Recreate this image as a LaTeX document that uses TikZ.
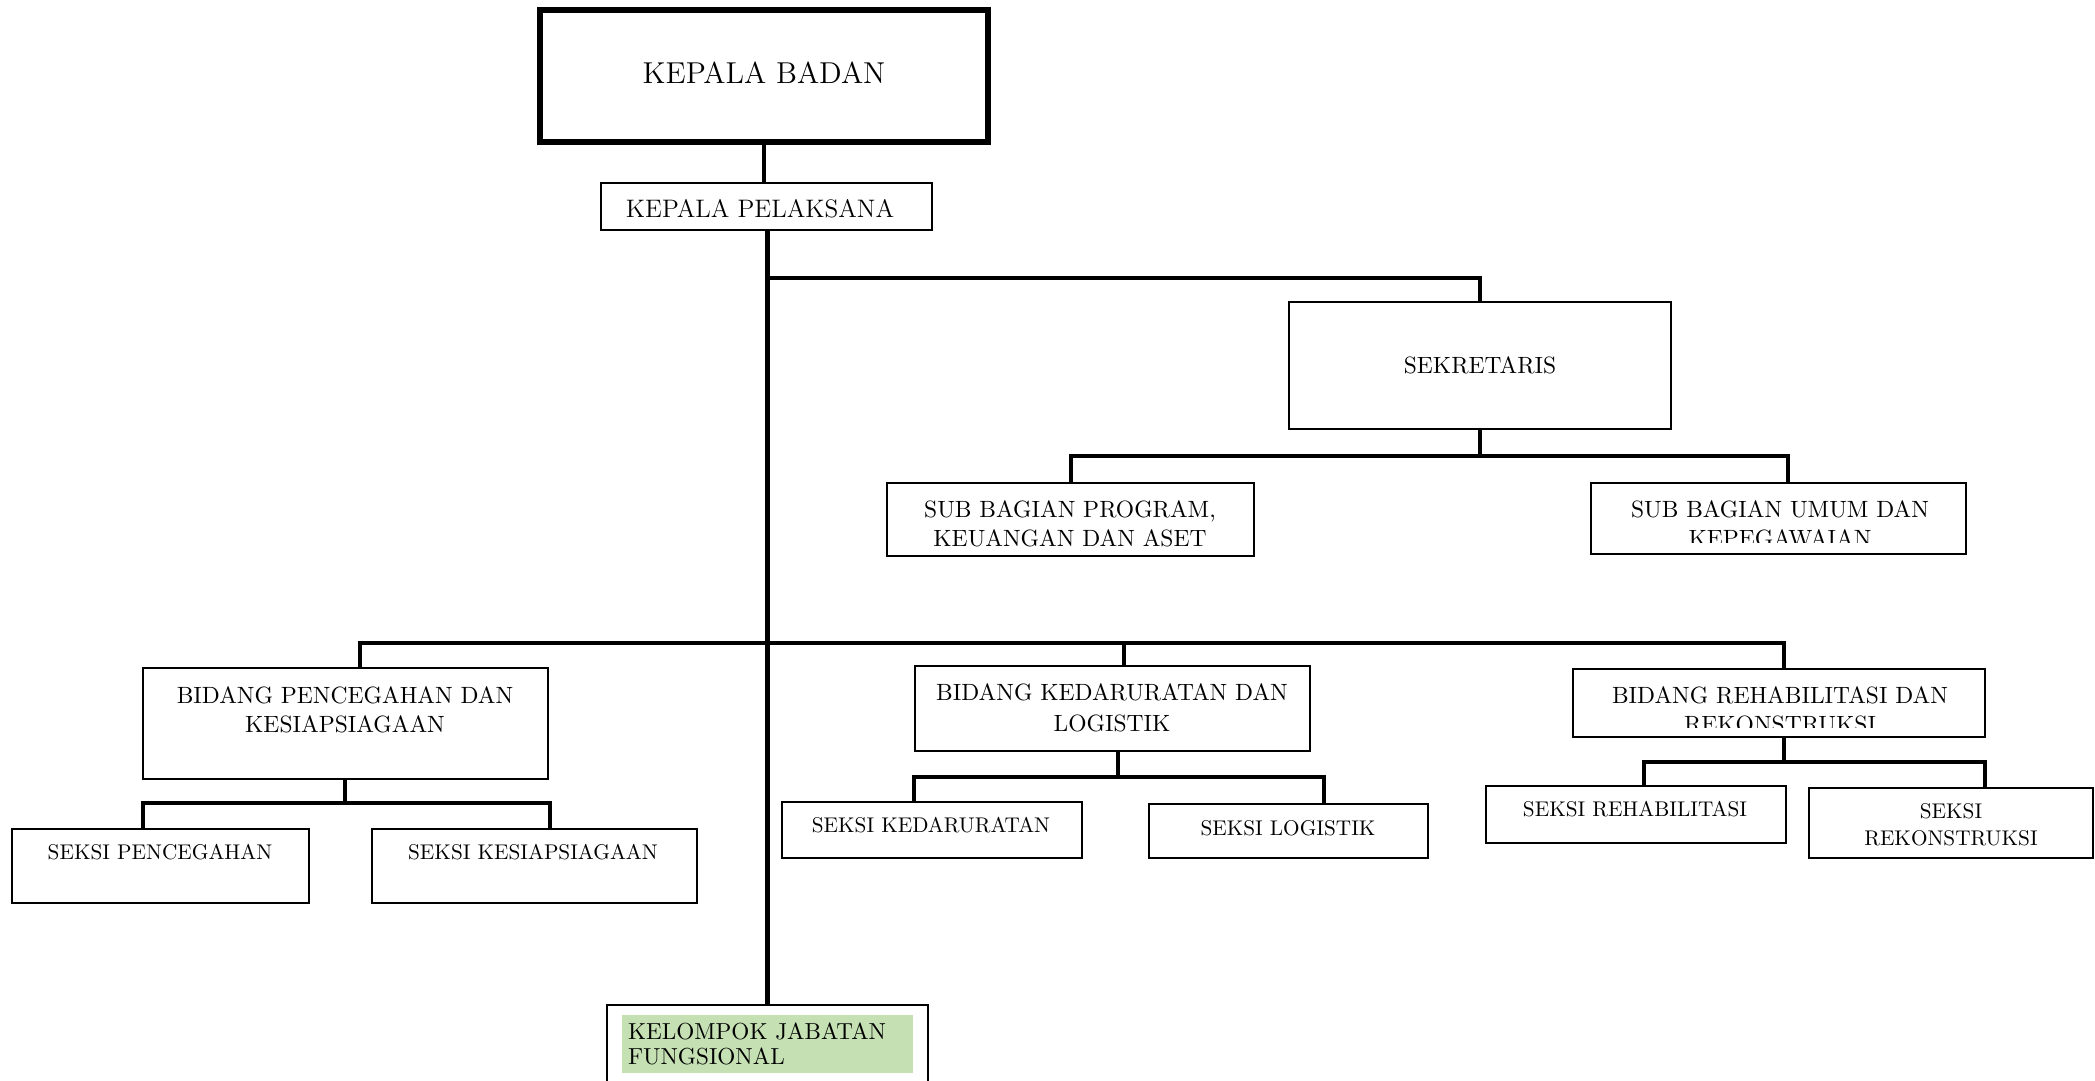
\documentclass[tikz,border=0pt]{standalone}
\definecolor{kjgreen}{HTML}{C5E0B3}
\tikzset{
  box/.style={draw, line width=1.04pt, inner sep=0pt},
  conn/.style={line width=2.08pt},
  lbl/.style={inner sep=0pt, align=center, font=\fontsize{10.72}{13.2}\selectfont},
  slbl/.style={inner sep=0pt, align=center, font=\fontsize{9.68}{12.3}\selectfont},
}
\newcommand\orgbox[6][]{\node[box,#1,minimum width={(#4-#2)*0.016cm},minimum height={(#5-#3)*0.016cm}] (#6) at ({(#2+#4)/2},{(#3+#5)/2}) {};}
\begin{document}
\begin{tikzpicture}[x=0.016cm,y=-0.016cm]
\clip (0,0) rectangle (2095,1081);
\fill[white] (0,0) rectangle (2095,1081);
% boxes
\orgbox[line width=2.72pt]{540}{10}{988}{142}{KB}
\orgbox{601}{183}{932}{230}{KP}
\orgbox{1289}{302}{1671}{429}{SEK}
\orgbox{887}{483}{1254}{556}{SBP}
\orgbox{1591}{483}{1966}{554}{SBU}
\orgbox{143}{668}{548}{779}{BP}
\orgbox{915}{666}{1310}{751}{BK}
\orgbox{1573}{669}{1985}{737}{BR}
\orgbox{12}{829}{309}{903}{SP}
\orgbox{372}{829}{697}{903}{SKS}
\orgbox{782}{802}{1082}{858}{SKD}
\orgbox{1149}{804}{1428}{858}{SL}
\orgbox{1486}{786}{1786}{843}{SR}
\orgbox{1809}{788}{2093}{858}{SRK}
\orgbox{607}{1005}{928}{1130}{KJ}
% texts
\node[inner sep=0pt, font=\fontsize{13.76}{16}\selectfont] (KBt) at (764,73) {KEPALA BADAN};
\node[inner sep=0pt, font=\fontsize{11.52}{14}\selectfont] (KPt) at (760,209) {KEPALA PELAKSANA};
\node[lbl] (SEKt) at (1480,365) {SEKRETARIS};
\node[lbl] (SBPt) at (1070,523.5) {SUB BAGIAN PROGRAM,\\KEUANGAN DAN ASET};
\begin{scope}
  \clip (1591,483) rectangle (1966,543);
  \node[lbl] (SBUt) at (1780,523.5) {SUB BAGIAN UMUM DAN\\KEPEGAWAIAN};
\end{scope}
\node[lbl] (BPt) at (345,710) {BIDANG PENCEGAHAN DAN\\KESIAPSIAGAAN};
\node[lbl, font=\fontsize{10.72}{14.1}\selectfont] (BKt) at (1112,708) {BIDANG KEDARURATAN DAN\\LOGISTIK};
\begin{scope}
  \clip (1573,669) rectangle (1985,727);
  \node[lbl] (BRt) at (1780,709.5) {BIDANG REHABILITASI DAN\\REKONSTRUKSI};
\end{scope}
\node[slbl] (SPt) at (160,852) {SEKSI PENCEGAHAN};
\node[slbl] (SKSt) at (533,852) {SEKSI KESIAPSIAGAAN};
\node[slbl] (SKDt) at (931,825) {SEKSI KEDARURATAN};
\node[slbl] (SLt) at (1288,828) {SEKSI LOGISTIK};
\node[slbl] (SRt) at (1635,809) {SEKSI REHABILITASI};
\node[slbl] (SRKt) at (1951,825) {SEKSI\\REKONSTRUKSI};
\node[fill=kjgreen, inner ysep=0pt, inner xsep=0.096cm, text width=4.464cm, minimum height=0.928cm, align=left, font=\fontsize{10.56}{11.4}\selectfont] (KJt) at (767.5,1044) {KELOMPOK JABATAN\\FUNGSIONAL};
% helper coordinates
\coordinate (j0) at (767.5,278);
\coordinate (dSBP) at (1071,456);
\coordinate (dSBU) at (1788,456);
\coordinate (bL) at (360,643);
\coordinate (bM) at (1124,643);
\coordinate (bR) at (1784,643);
\coordinate (pM) at (345,803);
\coordinate (pL) at (143,803);
\coordinate (pR) at (550,803);
\coordinate (kM) at (1118,777);
\coordinate (kL) at (914,777);
\coordinate (kR) at (1324,777);
\coordinate (rM) at (1784,762);
\coordinate (rL) at (1644,762);
\coordinate (rR) at (1985,762);
% connectors
\draw[conn] (KB.south) -- (KB.south |- KP.north);
\draw[conn] (KP.south -| KJ.north) -- (KJ.north);
\draw[conn] (j0) -| (SEK.north);
\draw[conn] (SEK.south) -- (SEK.south |- dSBP);
\draw[conn] (SBP.north -| dSBP) -- (dSBP) -- (dSBU) -- (SBU.north -| dSBU);
\draw[conn] (BP.north -| bL) -- (bL) -- (bR) -- (BR.north -| bR);
\draw[conn] (bM) -- (BK.north -| bM);
\draw[conn] (BP.south -| pM) -- (pM);
\draw[conn] (SP.north -| pL) -- (pL) -- (pR) -- (SKS.north -| pR);
\draw[conn] (BK.south -| kM) -- (kM);
\draw[conn] (SKD.north -| kL) -- (kL) -- (kR) -- (SL.north -| kR);
\draw[conn] (BR.south -| rM) -- (rM);
\draw[conn] (SR.north -| rL) -- (rL) -- (rR) -- (SRK.north -| rR);
\end{tikzpicture}
\end{document}
